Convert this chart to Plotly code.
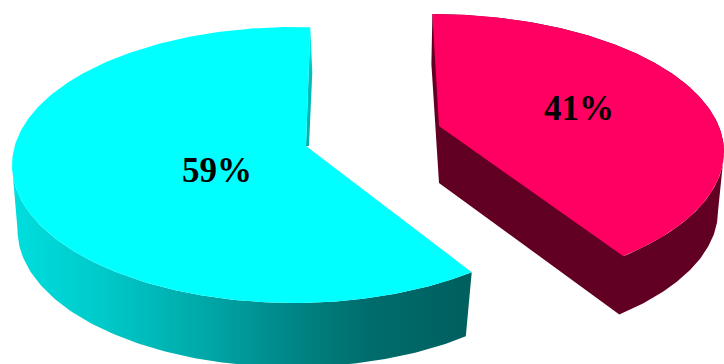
import numpy as np
import plotly.graph_objects as go

# Pie contents
labels = ["59%", "41%"]
shares = [59, 41]
top_colors = ["#00FFFF", "#FF0062"]
wall_color_red = "#620024"
wall_stops_cyan = [[0, "#00DEDE"], [0.2, "#00C9C9"], [0.42, "#00A8A8"], [0.62, "#008484"],
                   [0.78, "#006C6C"], [1, "#005F5F"]]
strip_stops_cyan = [[0, "#00F0F0"], [0.4, "#00C0C0"], [1, "#00B0B0"]]

W, H = 724, 364


def disc_point(theta_deg, d):
    """Perspective position of a rim point: unit circle under a projective shift by d."""
    t = np.radians(theta_deg)
    w = np.stack([np.cos(t), np.sin(t)], axis=-1)
    d = np.asarray(d, float)
    n = np.hypot(*d)
    e = d / n
    par = w @ e
    perp = w - np.outer(par, e)
    den = 1 + n * par
    return ((par + n)[:, None] * e + np.sqrt(1 - n * n) * perp) / den[:, None]


def rim(theta_deg, ellipse, d):
    cx, cy, a, b = ellipse
    p = disc_point(np.atleast_1d(theta_deg), d)
    return cx + a * p[:, 0], cy - b * p[:, 1]


def poly(*parts):
    xs = np.concatenate([np.atleast_1d(p[0]) for p in parts])
    ys = np.concatenate([np.atleast_1d(p[1]) for p in parts])
    return xs, ys


fig = go.Figure()


def add_fill(xy, color=None, gradient=None):
    kw = dict(fillcolor=color) if color else dict(fillgradient=gradient)
    fig.add_trace(go.Scatter(x=xy[0], y=xy[1], mode="lines", fill="toself",
                             line=dict(width=0), hoverinfo="skip", showlegend=False, **kw))


sweep_cyan = shares[0] / sum(shares) * 360
sweep_red = shares[1] / sum(shares) * 360

# Cyan slice: runs counter-clockwise from the top of the disc
top_c = (294, 165, 282, 138)
bot_c = (292.5, 230, 275, 137)
d_c = (0.03, 0.225)
start_c = 87.8
end_c = start_c + sweep_cyan
apex_c = (306, 146)
th = np.linspace(start_c, end_c, 240)

tx, ty = rim(th, top_c, d_c)
bx, by = rim(th, bot_c, d_c)
i_top, i_bot = int(np.argmin(tx)), int(np.argmin(bx))
add_fill(poly((tx[0], ty[0]), (tx[0] + 2, ty[0] + 45), (apex_c[0] + 3, apex_c[1]), (apex_c[0], apex_c[1])),
         gradient=dict(type="vertical", colorscale=strip_stops_cyan, start=27, stop=146))
add_fill(poly((tx[i_top:], ty[i_top:]), (bx[i_bot:][::-1], by[i_bot:][::-1])),
         gradient=dict(type="horizontal", colorscale=wall_stops_cyan, start=12, stop=470))
add_fill(poly((tx, ty), apex_c), color=top_colors[0])

# Red slice: pulled away from the cyan one, runs clockwise from the top
top_r = (431, 152, 293, 138)
bot_r = (431, 211, 287, 137)
d_r = (0.024, 0.18)
start_r = 91.2
end_r = start_r - sweep_red
apex_r = (439, 126)
th_r = np.linspace(start_r, end_r, 240)

rx, ry = rim(th_r, top_r, d_r)
ux, uy = rim(th_r, bot_r, d_r)
i_top_r, i_bot_r = int(np.argmax(rx)), int(np.argmax(ux))
add_fill(poly((rx[0], ry[0]), (rx[0] - 1, ry[0] + 50), (apex_r[0], apex_r[1] + 57),
              (ux[i_bot_r:][::-1], uy[i_bot_r:][::-1]), (rx[i_top_r:], ry[i_top_r:]),
              (rx[:i_top_r + 1][::-1], ry[:i_top_r + 1][::-1])), color=wall_color_red)
add_fill(poly((rx, ry), apex_r), color=top_colors[1])

# Percentage labels
fig.add_trace(go.Scatter(x=[217, 579], y=[173, 111], mode="text", text=labels, textposition="middle center",
                         textfont=dict(family="Liberation Serif", size=35, color="#000000", weight="bold"),
                         hoverinfo="skip", showlegend=False))

fig.update_layout(width=W, height=H, margin=dict(l=0, r=0, t=0, b=0), autosize=False,
                  paper_bgcolor="#FFFFFF", plot_bgcolor="#FFFFFF",
                  xaxis=dict(range=[0, W], visible=False, fixedrange=True),
                  yaxis=dict(range=[H, 0], visible=False, fixedrange=True))
fig.write_html("out.html", config=dict(displayModeBar=False))
